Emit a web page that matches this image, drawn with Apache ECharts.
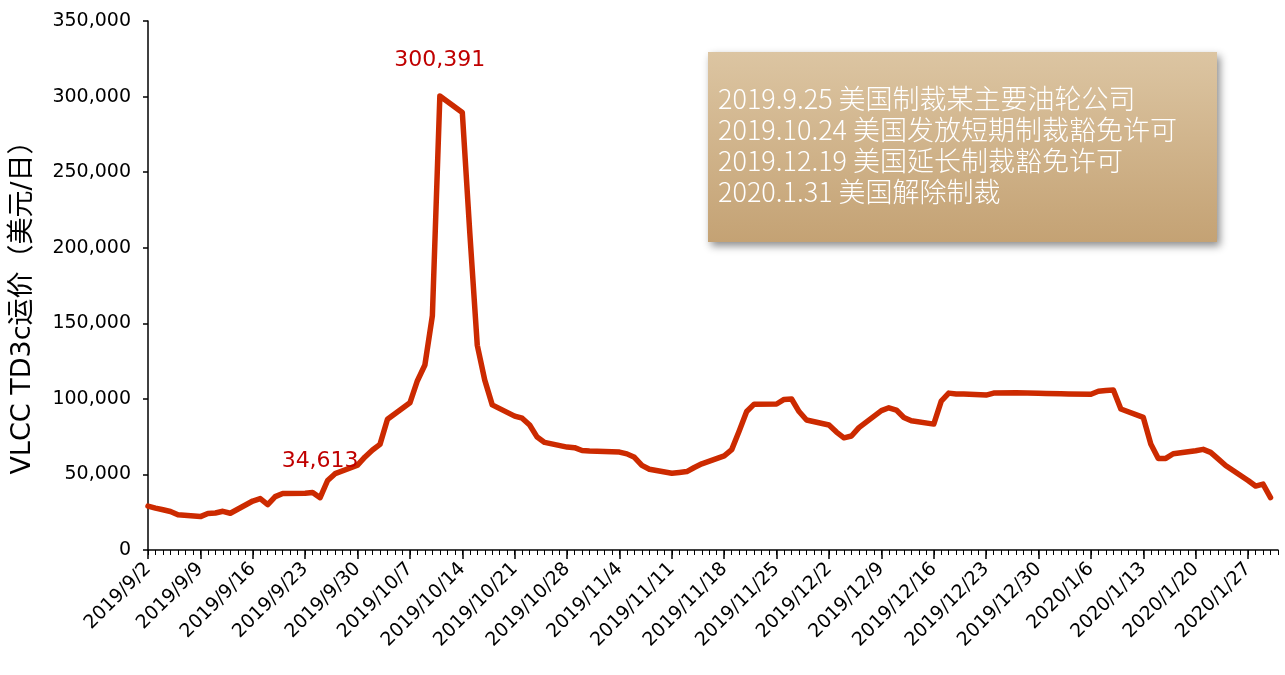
<!DOCTYPE html>
<html>
<head>
<meta charset="utf-8">
<script src="https://cdn.jsdelivr.net/npm/echarts@6/dist/echarts.min.js"></script>
<style>
  html, body { margin: 0; padding: 0; background: #fff; }
  #chart { width: 1285px; height: 675px; }
</style>
</head>
<body>
<div id="chart"></div>
<script>
// ---- data ----
const axisStart = '2019/9/2';
const axisEnd = '2020/1/31';

const dates = [
  '2019/9/2','2019/9/3','2019/9/4','2019/9/5','2019/9/6',
  '2019/9/9','2019/9/10','2019/9/11','2019/9/12','2019/9/13',
  '2019/9/16','2019/9/17','2019/9/18','2019/9/19','2019/9/20',
  '2019/9/23','2019/9/24','2019/9/25','2019/9/26','2019/9/27',
  '2019/9/30','2019/10/1','2019/10/2','2019/10/3','2019/10/4',
  '2019/10/7','2019/10/8','2019/10/9','2019/10/10','2019/10/11',
  '2019/10/14','2019/10/15','2019/10/16','2019/10/17','2019/10/18',
  '2019/10/21','2019/10/22','2019/10/23','2019/10/24','2019/10/25',
  '2019/10/28','2019/10/29','2019/10/30','2019/10/31','2019/11/1',
  '2019/11/4','2019/11/5','2019/11/6','2019/11/7','2019/11/8',
  '2019/11/11','2019/11/12','2019/11/13','2019/11/14','2019/11/15',
  '2019/11/18','2019/11/19','2019/11/20','2019/11/21','2019/11/22',
  '2019/11/25','2019/11/26','2019/11/27','2019/11/28','2019/11/29',
  '2019/12/2','2019/12/3','2019/12/4','2019/12/5','2019/12/6',
  '2019/12/9','2019/12/10','2019/12/11','2019/12/12','2019/12/13',
  '2019/12/16','2019/12/17','2019/12/18','2019/12/19','2019/12/20',
  '2019/12/23','2019/12/24','2019/12/27',
  '2019/12/30','2019/12/31','2020/1/2','2020/1/3',
  '2020/1/6','2020/1/7','2020/1/8','2020/1/9','2020/1/10',
  '2020/1/13','2020/1/14','2020/1/15','2020/1/16','2020/1/17',
  '2020/1/20','2020/1/21','2020/1/22','2020/1/23','2020/1/24',
  '2020/1/27','2020/1/28','2020/1/29','2020/1/30'
];

const values = [
  29000, 27700, 26600, 25500, 23300,
  22100, 24200, 24500, 25600, 24300,
  32400, 34000, 30000, 35300, 37400,
  37500, 38100, 34613, 46000, 50500,
  56100, 61600, 66200, 69900, 86500,
  97400, 112000, 122400, 155000, 300391,
  289500, 210000, 135500, 112400, 96000,
  88600, 87200, 82700, 74700, 71200,
  68100, 67700, 65800, 65500, 65400,
  64800, 63600, 61300, 56000, 53400,
  50800, 51300, 51900, 54600, 57000,
  62300, 66400, 78700, 91600, 96500,
  96600, 99600, 99900, 91600, 86000,
  82700, 78000, 74200, 75400, 81000,
  92200, 94100, 92600, 87700, 85500,
  83300, 98500, 103800, 103200, 103200,
  102500, 103800, 104100,
  103700, 103500, 103300, 103200,
  103000, 105000, 105500, 105800, 93300,
  87700, 70100, 60600, 60600, 63700,
  65700, 66600, 64600, 60300, 55900,
  46000, 42300, 43600, 34700
];

const labelledDates = ['2019/9/25', '2019/10/11'];

const yTicks = [0, 50000, 100000, 150000, 200000, 250000, 300000, 350000];

const yAxisName = 'VLCC TD3c运价（美元/日）';

const noteLines = [
  '2019.9.25 美国制裁某主要油轮公司',
  '2019.10.24 美国发放短期制裁豁免许可',
  '2019.12.19 美国延长制裁豁免许可',
  '2020.1.31 美国解除制裁'
];

// ---- build calendar categories ----
function fmt(d) { return d.getFullYear() + '/' + (d.getMonth() + 1) + '/' + d.getDate(); }
function parse(s) { const p = s.split('/').map(Number); return new Date(p[0], p[1] - 1, p[2]); }
const categories = [];
for (let d = parse(axisStart); d <= parse(axisEnd); d.setDate(d.getDate() + 1)) {
  categories.push(fmt(d));
}
const lookup = {};
dates.forEach((d, i) => { lookup[d] = values[i]; });

function thousands(v) { return String(v).replace(/\B(?=(\d{3})+(?!\d))/g, ','); }

const font = '"DejaVu Sans", "Noto Sans CJK SC", sans-serif';

const seriesData = categories.map(c => {
  if (!(c in lookup)) return null;
  const v = lookup[c];
  if (labelledDates.indexOf(c) >= 0) {
    return {
      value: v,
      label: {
        show: true, position: 'top', distance: 25,
        formatter: p => thousands(p.value),
        color: '#c00000', fontSize: 22,
        fontFamily: font
      }
    };
  }
  return v;
});

const chart = echarts.init(document.getElementById('chart'));

chart.setOption({
  animation: false,
  backgroundColor: '#fff',
  grid: { left: 148, right: 7, top: 21, bottom: 125, containLabel: false },
  xAxis: [
    {
      type: 'category',
      data: categories,
      boundaryGap: false,
      axisLine: { lineStyle: { color: '#000', width: 1.5 } },
      axisTick: { show: true, interval: 0, length: 5, lineStyle: { color: '#000', width: 1 } },
      axisLabel: {
        interval: 6, rotate: 45, margin: 16,
        color: '#000', fontSize: 19, fontFamily: font
      },
      splitLine: { show: false }
    },
    {
      type: 'category',
      data: categories,
      boundaryGap: false,
      position: 'bottom',
      axisLine: { show: false },
      axisTick: { show: true, interval: 6, length: 9, lineStyle: { color: '#000', width: 1.5 } },
      axisLabel: { show: false },
      splitLine: { show: false }
    }
  ],
  yAxis: {
    type: 'value',
    min: yTicks[0],
    max: yTicks[yTicks.length - 1],
    interval: yTicks[1] - yTicks[0],
    axisLine: { show: true, lineStyle: { color: '#000', width: 1.5 } },
    axisTick: { show: true, length: 5, lineStyle: { color: '#000', width: 1.5 } },
    axisLabel: {
      margin: 17, color: '#000', fontSize: 19, fontFamily: font,
      formatter: v => thousands(v)
    },
    splitLine: { show: false }
  },
  series: [{
    type: 'line',
    data: seriesData,
    connectNulls: true,
    showSymbol: true,
    symbol: 'circle',
    symbolSize: 0,
    label: { show: false },
    lineStyle: { color: '#cc2a00', width: 5.5, cap: 'round', join: 'round' },
    itemStyle: { color: '#cc2a00' },
    z: 3
  }],
  graphic: [
    {
      type: 'text',
      x: 23,
      y: 301,
      rotation: Math.PI / 2,
      style: {
        text: yAxisName,
        fill: '#000',
        font: '27px "DejaVu Sans", "Noto Sans CJK SC", sans-serif',
        align: 'center',
        verticalAlign: 'middle'
      }
    },
    {
      type: 'group',
      left: 708,
      top: 52,
      children: [
        {
          type: 'rect',
          shape: { x: 0, y: 0, width: 509, height: 190 },
          style: {
            fill: {
              type: 'linear', x: 0, y: 0, x2: 0, y2: 1,
              colorStops: [
                { offset: 0, color: '#dcc5a2' },
                { offset: 1, color: '#c4a274' }
              ]
            },
            shadowBlur: 8,
            shadowOffsetX: 3,
            shadowOffsetY: 4,
            shadowColor: 'rgba(0,0,0,0.45)'
          }
        },
        {
          type: 'text',
          x: 10,
          y: 31,
          style: {
            text: noteLines.join('\n'),
            fill: '#ffffff',
            font: '300 27px "Noto Sans CJK SC", sans-serif',
            lineHeight: 31,
            textVerticalAlign: 'top'
          }
        }
      ]
    }
  ]
});
</script>
</body>
</html>
